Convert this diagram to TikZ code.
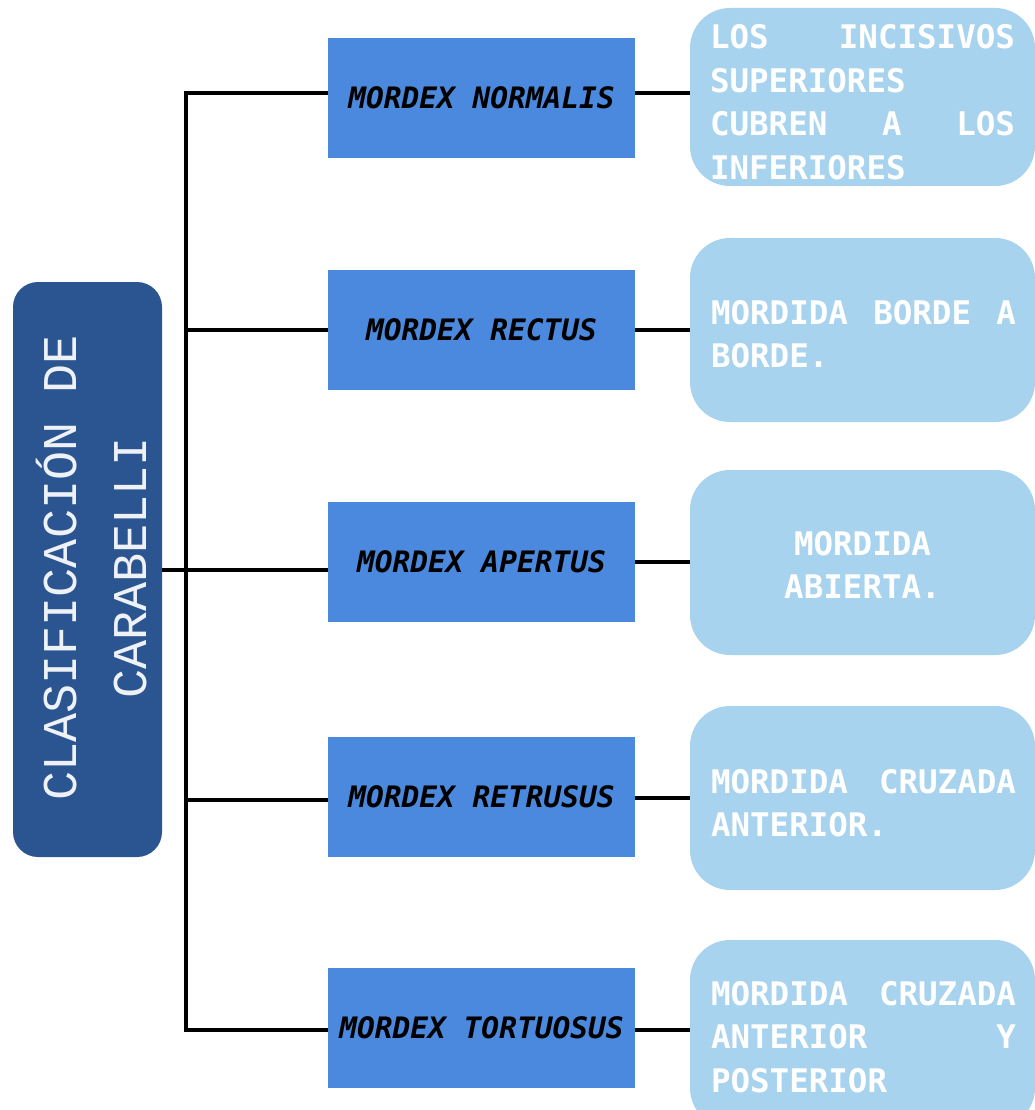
\documentclass[tikz,border=0pt]{standalone}
\usepackage{fontspec}
\newfontfamily\mainfnt{Liberation Mono}
\newfontfamily\monofnt{DejaVu Sans Mono}
\definecolor{darkbox}{HTML}{2B5590}
\definecolor{midbox}{HTML}{4A89DD}
\definecolor{lightbox}{HTML}{A7D3EE}
\definecolor{maintext}{HTML}{EEF2F7}
\tikzset{
  mainbox/.style={fill=darkbox, rounded corners=25pt, inner sep=0pt},
  maintextstyle/.style={rotate=90, text=maintext, inner sep=0pt, align=center,
    font=\mainfnt\fontsize{48.5}{70}\selectfont},
  midnode/.style={fill=midbox, minimum width=307pt, minimum height=120pt, inner sep=0pt,
    text=black, font=\monofnt\bfseries\itshape\fontsize{29.5}{34}\selectfont},
  descbox/.style={fill=lightbox, rounded corners=40pt, minimum width=345pt, inner sep=0pt},
  desctext/.style={text=white, text width=305pt, align=left, inner sep=0pt,
    font=\monofnt\bfseries\fontsize{32.5}{43.5}\selectfont},
  link/.style={line width=4pt, black, line join=miter}
}
\begin{document}
\begin{tikzpicture}[x=1pt,y=-1pt]
\useasboundingbox (0,0) rectangle (1035,1110);
\clip (0,0) rectangle (1035,1110);
\fill[white] (0,0) rectangle (1035,1110);

% main box
\node[mainbox, rotate=90, minimum width=575pt, minimum height=149pt] (main) at (87.5,569.5) {};
\node[maintextstyle] (maintxt) at (92,568) {CLASIFICACIÓN DE\\CARABELLI};

% middle boxes
\node[midnode] (m1) at (481.5,98) {MORDEX NORMALIS};
\node[midnode] (m2) at (481.5,330) {MORDEX RECTUS};
\node[midnode] (m3) at (481.5,562) {MORDEX APERTUS};
\node[midnode] (m4) at (481.5,797) {MORDEX RETRUSUS};
\node[midnode] (m5) at (481.5,1028) {MORDEX TORTUOSUS};

% description boxes
\node[descbox, minimum height=178pt] (r1) at (862.5,97) {};
\node[descbox, minimum height=184pt] (r2) at (862.5,330) {};
\node[descbox, minimum height=185pt] (r3) at (862.5,562.5) {};
\node[descbox, minimum height=184pt] (r4) at (862.5,798) {};
\node[descbox, minimum height=188pt] (r5) at (862.5,1034) {};
\node[desctext] (r1t) at (862.5,102) {LOS\hfill INCISIVOS\\SUPERIORES\\CUBREN\hfill A\hfill LOS\\INFERIORES};
\node[desctext] (r2t) at (863.5,334) {MORDIDA\hfill BORDE\hfill A\\BORDE.};
\node[desctext, align=center] (r3t) at (862.5,565) {MORDIDA\\ABIERTA.};
\node[desctext] (r4t) at (863.5,803) {MORDIDA\hfill CRUZADA\\ANTERIOR.};
\node[desctext] (r5t) at (863.5,1037) {MORDIDA\hfill CRUZADA\\ANTERIOR\hfill Y\\POSTERIOR};

% trunk
\coordinate (t1) at (186,93);
\coordinate (t2) at (186,330);
\coordinate (t3) at (186,570);
\coordinate (t4) at (186,800);
\coordinate (t5) at (186,1030);
\draw[link] (t1 -| m1.west) -- (t1) -- (t5) -- (t5 -| m5.west);
\draw[link] (t2) -- (t2 -| m2.west);
\draw[link] (main.south |- t3) -- (t3 -| m3.west);
\draw[link] (t4) -- (t4 -| m4.west);

% right connectors
\coordinate (c1) at (635,93);
\coordinate (c3) at (635,562);
\coordinate (c4) at (635,798);
\coordinate (c5) at (635,1030);
\draw[link] (c1) -- (c1 -| r1.west);
\draw[link] (m2.east) -- (m2.east -| r2.west);
\draw[link] (c3) -- (c3 -| r3.west);
\draw[link] (c4) -- (c4 -| r4.west);
\draw[link] (c5) -- (c5 -| r5.west);
\end{tikzpicture}
\end{document}
